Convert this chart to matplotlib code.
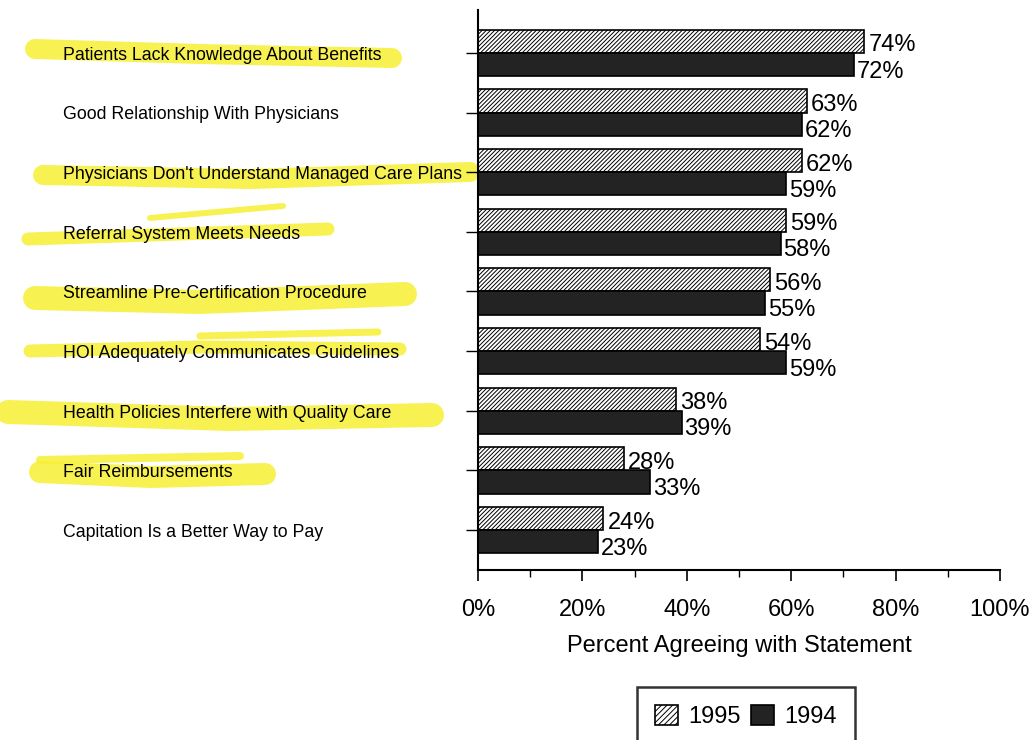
import matplotlib
matplotlib.use("Agg")
import matplotlib.pyplot as plt
from matplotlib.patches import Patch
from matplotlib.lines import Line2D
from matplotlib.transforms import blended_transform_factory
from matplotlib.ticker import MultipleLocator, FuncFormatter

plt.rcParams['font.family'] = ['Liberation Sans', 'DejaVu Sans']
plt.rcParams['hatch.linewidth'] = 0.7

# survey statements, top to bottom
statements = [
    "Patients Lack Knowledge About Benefits",
    "Good Relationship With Physicians",
    "Physicians Don't Understand Managed Care Plans",
    "Referral System Meets Needs",
    "Streamline Pre-Certification Procedure",
    "HOI Adequately Communicates Guidelines",
    "Health Policies Interfere with Quality Care",
    "Fair Reimbursements",
    "Capitation Is a Better Way to Pay",
]
pct_1995 = [74, 63, 62, 59, 56, 54, 38, 28, 24]
pct_1994 = [72, 62, 59, 58, 55, 59, 39, 33, 23]
years = ["1995", "1994"]

W, H = 1031, 740
fig = plt.figure(figsize=(W / 100, H / 100), dpi=100)
ax = fig.add_axes([478 / W, 1 - 570 / H, 522 / W, 560 / H])

n = len(statements)
pos = [n - 1 - i for i in range(n)]
bh = 0.39
dark = '#232323'
hatch = '////////'

ax.barh(pos, pct_1995, height=bh, align='edge', color='white',
        edgecolor='black', hatch=hatch, linewidth=1.2, zorder=2)
ax.barh(pos, pct_1994, height=-bh, align='edge', color=dark,
        edgecolor='black', linewidth=1.2, zorder=2)

for p, a, b in zip(pos, pct_1995, pct_1994):
    ax.annotate(f"{a}%", (a, p + bh / 2), xytext=(3, -3), textcoords='offset points',
                va='center', ha='left', fontsize=17, zorder=4)
    ax.annotate(f"{b}%", (b, p - bh / 2), xytext=(2, -5), textcoords='offset points',
                va='center', ha='left', fontsize=17, zorder=4)

ax.set_xlim(0, 100)
ax.set_ylim(-0.67, n - 1 + 0.72)
ax.xaxis.set_major_locator(MultipleLocator(20))
ax.xaxis.set_minor_locator(MultipleLocator(10))
ax.xaxis.set_major_formatter(FuncFormatter(lambda v, _: f"{v:.0f}%"))
ax.tick_params(axis='x', which='major', length=8, width=1.2, labelsize=17, pad=13)
ax.tick_params(axis='x', which='minor', length=5, width=1.0)
ax.set_yticks(pos)
ax.set_yticklabels([])
ax.tick_params(axis='y', length=9, width=1.0)
ax.set_xlabel("Percent Agreeing with Statement", fontsize=17, labelpad=10)

for s in ['top', 'right']:
    ax.spines[s].set_visible(False)
for s in ['left', 'bottom']:
    ax.spines[s].set_linewidth(1.5)

# highlighter strokes behind some of the statements (pixel coords)
def px(x, y):
    return x / W, 1 - y / H

yellow = '#f7ef34'
strokes = [
    ([35, 200, 392], [49, 54, 58], 20),
    ([43, 250, 470], [175, 179, 172], 20),
    ([28, 180, 328], [239, 234, 229], 13),
    ([150, 283], [218, 206], 6),
    ([35, 200, 405], [298, 302, 294], 24),
    ([30, 200, 400], [351, 347, 349], 13),
    ([200, 378], [336, 332], 7),
    ([8, 230, 432], [412, 419, 415], 24),
    ([40, 150, 265], [472, 477, 474], 22),
    ([40, 240], [460, 456], 8),
]
for xs, ys, lw in strokes:
    fx, fy = zip(*[px(x, y) for x, y in zip(xs, ys)])
    fig.add_artist(Line2D(fx, fy, transform=fig.transFigure, color=yellow,
                          linewidth=lw * 0.72, solid_capstyle='round', alpha=0.85, zorder=0))

label_tr = blended_transform_factory(fig.transFigure, ax.transData)
for p, txt in zip(pos, statements):
    ax.text(63 / W, p - 0.04, txt, transform=label_tr,
            ha='left', va='center', fontsize=12.8, zorder=5)

handles = [Patch(facecolor='white', edgecolor='black', hatch='//////', linewidth=1.2),
           Patch(facecolor=dark, edgecolor='black', linewidth=1.2)]
leg = fig.legend(handles, years, loc='upper center', bbox_to_anchor=(746 / W, 1 - 675 / H),
                 ncol=2, fontsize=17, frameon=True, fancybox=False, borderpad=0.75,
                 handlelength=0.95, handleheight=0.95, handletextpad=0.45, columnspacing=0.45)
leg.get_frame().set_edgecolor('black')
leg.get_frame().set_linewidth(1.8)

fig.savefig("out.png", dpi=100)
